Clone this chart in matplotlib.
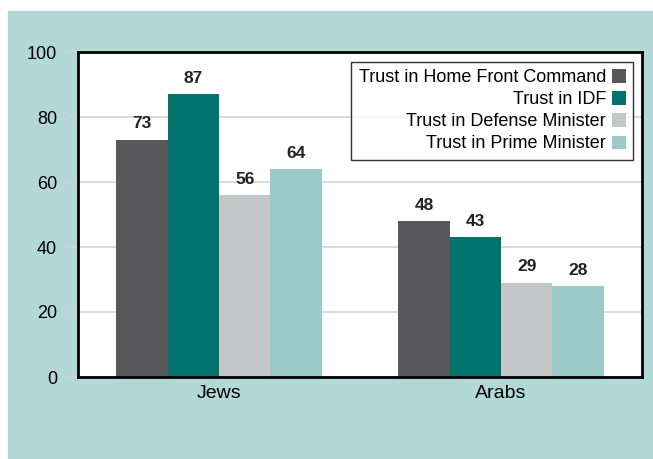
import matplotlib.pyplot as plt
import numpy as np
from matplotlib.patches import Rectangle

groups = ['Jews', 'Arabs']
series = ['Trust in Home Front Command', 'Trust in IDF',
          'Trust in Defense Minister', 'Trust in Prime Minister']
home_front = [73, 48]
idf = [87, 43]
defense = [56, 29]
prime = [64, 28]
colors = ['#58585a', '#00736f', '#c5c6c8', '#9bcac9']

plt.rcParams['font.family'] = ['Liberation Sans', 'DejaVu Sans']

fig = plt.figure(figsize=(6.53, 4.59), dpi=100)
fig.patches.append(Rectangle((8 / 653, 0), 1, 1 - 11 / 459, transform=fig.transFigure,
                             color='#b3d8d8', zorder=-10))
ax = fig.add_axes([78 / 653, 1 - 377 / 459, 564 / 653, 325 / 459])
ax.set_zorder(5)
ax.set_facecolor('white')

x = np.arange(len(groups))
w = 0.182
for i, (vals, name) in enumerate(zip([home_front, idf, defense, prime], series)):
    pos = x + (i - 1.5) * w
    bars = ax.bar(pos, vals, w, color=colors[i], label=name, zorder=2)
    for b, v in zip(bars, vals):
        ax.text(b.get_x() + b.get_width() / 2, v + 2.6, str(v), ha='center', va='bottom',
                fontsize=12.5, fontweight='bold', color='#222222')

ax.set_xlim(-0.5, 1.5)
ax.set_ylim(0, 100)
ax.set_yticks(range(0, 101, 20))
ax.set_xticks(x)
ax.set_xticklabels(groups, fontsize=14)
ax.grid(axis='y', color='#d4d4d4', linewidth=1.2, zorder=0)
ax.tick_params(axis='y', length=8, width=1.2, color='#d4d4d4', labelsize=13, pad=7)
ax.tick_params(axis='x', length=0, pad=6)
for s in ax.spines.values():
    s.set_linewidth(2)
    s.set_color('black')

leg = ax.legend(loc='upper right', bbox_to_anchor=(0.984, 0.969), borderaxespad=0,
                markerfirst=False, fontsize=13, frameon=True, fancybox=False,
                handlelength=0.75, handleheight=0.75, handletextpad=0.35,
                labelspacing=0.28, borderpad=0.4)
leg.get_frame().set_edgecolor('black')
leg.get_frame().set_linewidth(1)
for t in leg.get_texts():
    t.set_ha('right')
leg._legend_box.align = 'right'

fig.savefig('out.png', dpi=100)
